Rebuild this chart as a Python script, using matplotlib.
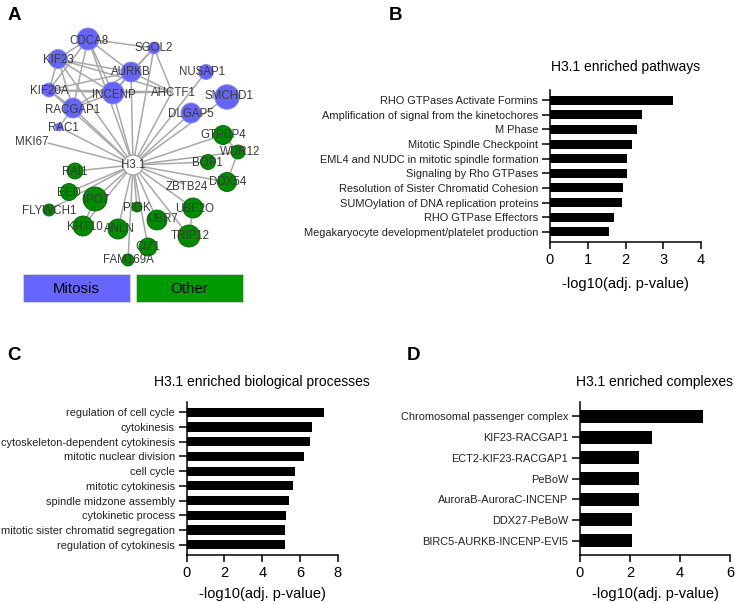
import matplotlib
matplotlib.use("Agg")
import matplotlib.pyplot as plt
from matplotlib.patches import Circle, Rectangle

plt.rcParams['font.family'] = ['Liberation Sans', 'DejaVu Sans']

# === Panel A: network ===
mitosis_nodes = ["CDCA8", "SGOL2", "KIF23", "AURKB", "NUSAP1", "KIF20A", "INCENP", "AHCTF1",
                 "SMCHD1", "RACGAP1", "DLGAP5", "RAC1", "MKI67"]
other_nodes = ["GTPBP4", "WDR12", "BOP1", "DDX54", "ZBTB24", "UBE2O", "TRIP12", "UBR7", "PIGK",
               "CIZ1", "ANLN", "FAM169A", "KRT10", "IPO7", "EED", "RAI1", "FLYWCH1"]
hub = "H3.1"

# layout (pixel coords of the original figure) and node radius
node_pos = {
    "H3.1": (133, 165), "CDCA8": (88, 39), "SGOL2": (154, 48), "KIF23": (58, 59), "AURKB": (131, 72),
    "NUSAP1": (206, 72), "KIF20A": (49, 90), "INCENP": (113, 93), "AHCTF1": (172, 92),
    "SMCHD1": (227, 97), "RACGAP1": (73, 108), "DLGAP5": (191, 113), "RAC1": (59, 127),
    "MKI67": (48, 143), "GTPBP4": (223, 135), "WDR12": (238, 152), "BOP1": (208, 162),
    "DDX54": (227, 182), "ZBTB24": (184, 184), "UBE2O": (193, 208), "TRIP12": (189, 236),
    "UBR7": (157, 220), "PIGK": (137, 207), "CIZ1": (148, 247), "ANLN": (118, 229),
    "FAM169A": (128, 260), "KRT10": (83, 226), "IPO7": (95, 199), "EED": (69, 192),
    "RAI1": (75, 171), "FLYWCH1": (49, 210),
}
node_r = {
    "H3.1": 10, "CDCA8": 11, "SGOL2": 6, "KIF23": 9.5, "AURKB": 10, "NUSAP1": 7.5, "KIF20A": 7,
    "INCENP": 11, "AHCTF1": 0, "SMCHD1": 12.3, "RACGAP1": 10, "DLGAP5": 10, "RAC1": 4, "MKI67": 0,
    "GTPBP4": 9.5, "WDR12": 7, "BOP1": 7.5, "DDX54": 9.5, "ZBTB24": 0, "UBE2O": 10, "TRIP12": 11,
    "UBR7": 10, "PIGK": 5, "CIZ1": 9, "ANLN": 10, "FAM169A": 6, "KRT10": 10, "IPO7": 12,
    "EED": 8.5, "RAI1": 8, "FLYWCH1": 6,
}
label_pos = {
    "H3.1": (133, 165), "CDCA8": (89, 41), "SGOL2": (154, 48), "KIF23": (58, 60), "AURKB": (131, 72),
    "NUSAP1": (202, 72), "KIF20A": (49, 91), "INCENP": (114, 95), "AHCTF1": (173, 93),
    "SMCHD1": (229, 96), "RACGAP1": (73, 110), "DLGAP5": (191, 114), "RAC1": (63, 128),
    "MKI67": (32, 142), "GTPBP4": (223, 135), "WDR12": (240, 152), "BOP1": (207, 163),
    "DDX54": (228, 182), "ZBTB24": (187, 187), "UBE2O": (195, 209), "TRIP12": (190, 236),
    "UBR7": (162, 219), "PIGK": (137, 208), "CIZ1": (148, 247), "ANLN": (119, 229),
    "FAM169A": (128, 260), "KRT10": (85, 227), "IPO7": (96, 200), "EED": (69, 193),
    "RAI1": (75, 172), "FLYWCH1": (49, 211),
}
extra_edges = [
    ("CDCA8", "SGOL2"), ("CDCA8", "KIF23"), ("CDCA8", "AURKB"), ("CDCA8", "INCENP"),
    ("CDCA8", "KIF20A"), ("CDCA8", "RACGAP1"), ("KIF23", "KIF20A"), ("KIF23", "RACGAP1"),
    ("KIF23", "AURKB"), ("KIF23", "INCENP"), ("KIF23", "AHCTF1"), ("KIF20A", "RACGAP1"),
    ("KIF20A", "AURKB"), ("KIF20A", "AHCTF1"), ("KIF20A", "INCENP"), ("RACGAP1", "INCENP"),
    ("RACGAP1", "AURKB"), ("AURKB", "SGOL2"), ("AURKB", "INCENP"), ("AURKB", "AHCTF1"),
    ("SGOL2", "INCENP"), ("SGOL2", "AHCTF1"), ("INCENP", "AHCTF1"), ("RACGAP1", "RAC1"),
    ("GTPBP4", "WDR12"), ("WDR12", "DDX54"), ("UBE2O", "TRIP12"), ("IPO7", "KRT10"),
]
legend_labels = ["Mitosis", "Other"]

# === Panels B-D: enrichment bars ===
pathways = ["RHO GTPases Activate Formins", "Amplification of signal from the kinetochores",
            "M Phase", "Mitotic Spindle Checkpoint", "EML4 and NUDC in mitotic spindle formation",
            "Signaling by Rho GTPases", "Resolution of Sister Chromatid Cohesion",
            "SUMOylation of DNA replication proteins", "RHO GTPase Effectors",
            "Megakaryocyte development/platelet production"]
pathway_vals = [3.25, 2.44, 2.31, 2.16, 2.05, 2.04, 1.94, 1.90, 1.70, 1.57]

processes = ["regulation of cell cycle", "cytokinesis", "cytoskeleton-dependent cytokinesis",
             "mitotic nuclear division", "cell cycle", "mitotic cytokinesis",
             "spindle midzone assembly", "cytokinetic process",
             "mitotic sister chromatid segregation", "regulation of cytokinesis"]
process_vals = [7.28, 6.62, 6.53, 6.22, 5.72, 5.62, 5.42, 5.25, 5.23, 5.22]

complexes = ["Chromosomal passenger complex", "KIF23-RACGAP1", "ECT2-KIF23-RACGAP1", "PeBoW",
             "AuroraB-AuroraC-INCENP", "DDX27-PeBoW", "BIRC5-AURKB-INCENP-EVI5"]
complex_vals = [4.93, 2.87, 2.37, 2.37, 2.37, 2.08, 2.08]

W, H = 735, 603
blue = '#6565F4'
green = '#008A00'

fig = plt.figure(figsize=(W / 100, H / 100), dpi=100)

# --- network axes (data units = pixels) ---
axA = fig.add_axes([0, 1 - 310 / H, 250 / W, 310 / H])
axA.set_xlim(0, 250)
axA.set_ylim(310, 0)
axA.axis('off')

for n in mitosis_nodes + other_nodes:
    x0, y0 = node_pos[hub]
    x1, y1 = node_pos[n]
    axA.plot([x0, x1], [y0, y1], color='#a8a8a8', lw=1.1, zorder=1, solid_capstyle='round')
for a, b in extra_edges:
    axA.plot([node_pos[a][0], node_pos[b][0]], [node_pos[a][1], node_pos[b][1]],
             color='#a8a8a8', lw=1.1, zorder=1)

for n in mitosis_nodes:
    if node_r[n] > 0:
        axA.add_patch(Circle(node_pos[n], node_r[n], facecolor=blue, edgecolor='#8a8aff',
                             lw=0.6, zorder=2))
for n in other_nodes:
    if node_r[n] > 0:
        axA.add_patch(Circle(node_pos[n], node_r[n], facecolor=green, edgecolor='#006400',
                             lw=0.6, zorder=2))
axA.add_patch(Circle(node_pos[hub], node_r[hub], facecolor='white', edgecolor='#999999',
                     lw=0.8, zorder=2))

for n in [hub] + mitosis_nodes + other_nodes:
    axA.text(label_pos[n][0], label_pos[n][1], n, ha='center', va='center', fontsize=8.3,
             color='#3a3a3a', zorder=3, clip_on=False)

for (x0, lab, col) in zip([23, 136], legend_labels, ['#6666FF', '#009900']):
    axA.add_patch(Rectangle((x0, 274), 107, 28, facecolor=col, edgecolor='#dddddd', lw=0.5))
    axA.text(x0 + 53.5, 289, lab, ha='center', va='center', fontsize=10.8, color='black')


def bar_panel(rect, labels, vals, xmax, xstep, title, title_pad, label_pad):
    ax = fig.add_axes(rect)
    n = len(labels)
    ax.barh(range(n), vals, height=0.62, color='black')
    ax.set_yticks(range(n))
    ax.set_yticklabels(labels, fontsize=7.9, color='#222222')
    ax.set_ylim(n - 1 + 0.7, -0.7)
    ax.set_xlim(0, xmax)
    ax.set_xticks(range(0, xmax + 1, xstep))
    ax.tick_params(axis='x', labelsize=10.5, length=4.8, width=1.1, pad=3)
    ax.tick_params(axis='y', length=6, width=1.1, pad=2.5)
    for s in ['top', 'right']:
        ax.spines[s].set_visible(False)
    for s in ['left', 'bottom']:
        ax.spines[s].set_linewidth(1.1)
    ax.set_xlabel("-log10(adj. p-value)", fontsize=10.5, labelpad=label_pad)
    ax.set_title(title, fontsize=10, pad=title_pad)
    return ax


bar_panel([550 / W, 1 - 242 / H, 151 / W, 152 / H], pathways, pathway_vals, 4, 1,
          "H3.1 enriched pathways", 14, 7)
bar_panel([186.7 / W, 1 - 555 / H, 151 / W, 153 / H], processes, process_vals, 8, 2,
          "H3.1 enriched biological processes", 11.5, 5)
bar_panel([580 / W, 1 - 555 / H, 150 / W, 153 / H], complexes, complex_vals, 6, 2,
          "H3.1 enriched complexes", 11.5, 5)

for lab, (px, py) in zip("ABCD", [(14, 15), (396, 15), (14, 355), (414, 355)]):
    fig.text(px / W, 1 - py / H, lab, fontsize=13.5, fontweight='bold', ha='center', va='center')

fig.savefig("out.png", dpi=100)
